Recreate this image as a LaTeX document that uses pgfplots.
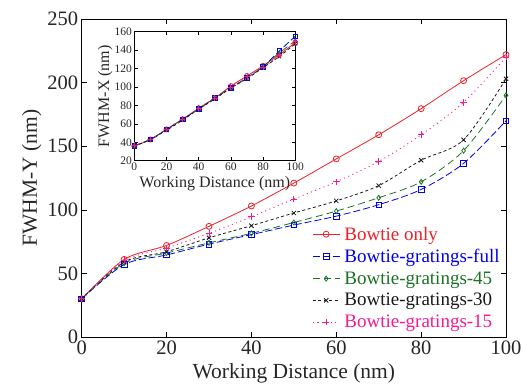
\documentclass[border=0pt]{standalone}
\usepackage{fontspec}
\setmainfont{Liberation Serif}
\usepackage{pgfplots}
\pgfplotsset{compat=1.18}
\definecolor{cred}{RGB}{238,32,40}
\definecolor{cblue}{RGB}{0,0,235}
\definecolor{cgreen}{RGB}{25,115,35}
\definecolor{cblack}{RGB}{25,25,25}
\definecolor{cpink}{RGB}{250,25,140}
\pgfplotsset{
  sred/.style={cred, line width=0.8pt, mark=o, mark size=3pt, mark options={solid}},
  sblue/.style={cblue, line width=0.8pt, dash pattern=on 7pt off 3pt, mark=square, mark size=2.8pt, mark options={solid}},
  sgreen/.style={cgreen, line width=0.8pt, dash pattern=on 7pt off 4pt, mark=diamond, mark size=2.5pt, mark options={solid}},
  sblack/.style={cblack, line width=0.8pt, dash pattern=on 3pt off 2.5pt, mark=x, mark size=3pt, mark options={solid}},
  spink/.style={cpink, line width=0.9pt, dash pattern=on 1pt off 3.5pt, mark=+, mark size=3.3pt, mark options={solid}},
}
\begin{document}
\begin{tikzpicture}
\path[use as bounding box] (-81.7pt,-52pt) rectangle (440.3pt,337pt);
\begin{axis}[
  at={(0pt,0pt)}, anchor=south west,
  scale only axis, width=424.3pt, height=318pt,
  xmin=0, xmax=100, ymin=0, ymax=250,
  xtick={0,20,...,100}, ytick={0,50,...,250},
  tick align=inside, major tick length=5pt,
  tick style={black, line width=0.6pt},
  axis line style={black, line width=1pt},
  /pgf/number format/assume math mode=true,
  tick label style={font=\fontsize{20.5}{22}\selectfont, text=black!85},
  label style={font=\fontsize{21.5}{24}\selectfont, text=black!85},
  xlabel={Working Distance (nm)},
  ylabel={FWHM-Y (nm)},
  xlabel style={yshift=-2pt},
  ylabel style={yshift=-1pt},
  legend cell align=left,
  legend style={draw=none, fill=none, at={(0.536,0.358)}, anchor=north west,
    font=\fontsize{19}{21}\selectfont, row sep=4.6pt, column sep=3pt,
    nodes={inner sep=1.5pt}},
  legend image code/.code={\draw[mark repeat=2,mark phase=2] plot coordinates {(0cm,0cm) (0.47cm,0cm) (0.94cm,0cm)};},
]
\addplot[sred, smooth] coordinates {(0,30) (10,61) (20,72) (30,87) (40,103) (50,121) (60,140) (70,159) (80,179.5) (90,201.5) (100,222)};
\addlegendentry{\textcolor{cred}{Bowtie only}}
\addplot[sblue, smooth] coordinates {(0,30) (10,57) (20,64.5) (30,73) (40,80.5) (50,88) (60,95) (70,104) (80,116) (90,136.5) (100,170)};
\addlegendentry{\textcolor{cblue}{Bowtie-gratings-full}}
\addplot[sgreen, smooth] coordinates {(0,30) (10,58) (20,66) (30,74) (40,81.5) (50,90) (60,99) (70,109.5) (80,122) (90,146.5) (100,190)};
\addlegendentry{\textcolor{cgreen}{Bowtie-gratings-45}}
\addplot[sblack, smooth] coordinates {(0,30) (10,59) (20,67) (30,78) (40,87.5) (50,97.5) (60,107) (70,119) (80,139) (90,155) (100,203)};
\addlegendentry{\textcolor{cblack}{Bowtie-gratings-30}}
\addplot[spink, smooth] coordinates {(0,30) (10,60) (20,70) (30,81.5) (40,94.5) (50,108.5) (60,122) (70,138) (80,159) (90,184.5) (100,220)};
\addlegendentry{\textcolor{cpink}{Bowtie-gratings-15}}
\end{axis}
\begin{axis}[
  at={(52.6pt,176.3pt)}, anchor=south west,
  scale only axis, width=161pt, height=129pt,
  xmin=0, xmax=100, ymin=20, ymax=160,
  xtick={0,20,...,100}, ytick={20,40,...,160},
  tick align=inside, major tick length=3.5pt,
  tick style={black, line width=0.5pt},
  axis line style={black, line width=0.8pt},
  axis background/.style={fill=white},
  /pgf/number format/assume math mode=true,
  tick label style={font=\fontsize{11.5}{13}\selectfont, text=black!85},
  label style={font=\fontsize{16}{18}\selectfont, text=black!85},
  xticklabel style={yshift=1pt},
  yticklabel style={xshift=1pt},
  xlabel={Working Distance (nm)},
  ylabel={FWHM-X (nm)},
  xlabel style={yshift=1.5pt},
  ylabel style={yshift=-5pt},
]
\addplot[sred, mark size=2.5pt, smooth] coordinates {(0,36) (10,43) (20,54) (30,65) (40,77) (50,88) (60,101) (70,112) (80,123) (90,135) (100,148)};
\addplot[sblue, mark size=2.3pt, smooth] coordinates {(0,36) (10,43) (20,54) (30,65) (40,76) (50,88) (60,99) (70,110) (80,122) (90,139) (100,155)};
\addplot[sgreen, mark size=2pt, smooth] coordinates {(0,36) (10,43) (20,54) (30,65) (40,76) (50,88) (60,99) (70,110) (80,122) (90,137) (100,150)};
\addplot[sblack, mark size=2.5pt, smooth] coordinates {(0,36) (10,43) (20,53) (30,64) (40,76) (50,87) (60,99) (70,109) (80,121) (90,133) (100,147)};
\addplot[spink, mark size=2.8pt, smooth] coordinates {(0,37) (10,43) (20,54) (30,65) (40,77) (50,88) (60,100) (70,111) (80,121) (90,134) (100,149)};
\end{axis}
\end{tikzpicture}
\end{document}
